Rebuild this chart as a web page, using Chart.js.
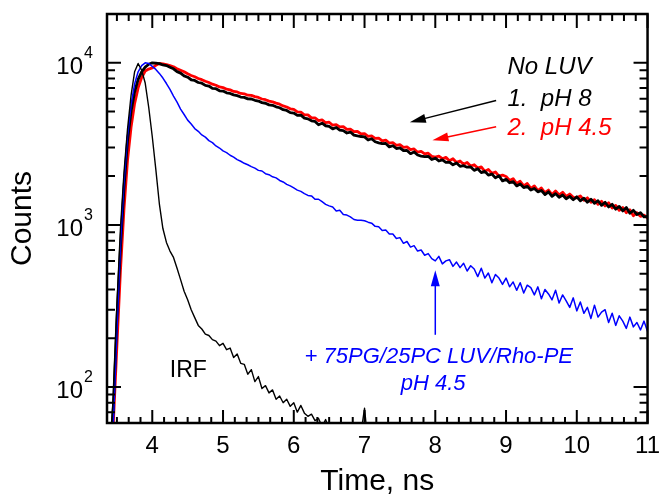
<!DOCTYPE html>
<html>
<head>
<meta charset="utf-8">
<script src="https://cdn.jsdelivr.net/npm/chart.js@4.4.0/dist/chart.umd.min.js"></script>
<style>
  html, body { margin: 0; padding: 0; background: #fff; }
  #wrap { width: 669px; height: 497px; }
</style>
</head>
<body>
<div id="wrap"><canvas id="chart"></canvas></div>
<script>
// time channels, ns
const time = [
  3.35, 3.4, 3.45, 3.5, 3.55, 3.6, 3.65, 3.7, 3.75, 3.8, 3.85, 3.9, 3.95,
  4, 4.05, 4.1, 4.15, 4.2, 4.25, 4.3, 4.35, 4.4, 4.45, 4.5, 4.55, 4.6, 4.65, 4.7, 4.75, 4.8, 4.85, 4.9, 4.95,
  5, 5.05, 5.1, 5.15, 5.2, 5.25, 5.3, 5.35, 5.4, 5.45, 5.5, 5.55, 5.6, 5.65, 5.7, 5.75, 5.8, 5.85, 5.9, 5.95,
  6, 6.05, 6.1, 6.15, 6.2, 6.25, 6.3, 6.35, 6.4, 6.45, 6.5, 6.55, 6.6, 6.65, 6.7, 6.75, 6.8, 6.85, 6.9, 6.95,
  7, 7.05, 7.1, 7.15, 7.2, 7.25, 7.3, 7.35, 7.4, 7.45, 7.5, 7.55, 7.6, 7.65, 7.7, 7.75, 7.8, 7.85, 7.9, 7.95,
  8, 8.05, 8.1, 8.15, 8.2, 8.25, 8.3, 8.35, 8.4, 8.45, 8.5, 8.55, 8.6, 8.65, 8.7, 8.75, 8.8, 8.85, 8.9, 8.95,
  9, 9.05, 9.1, 9.15, 9.2, 9.25, 9.3, 9.35, 9.4, 9.45, 9.5, 9.55, 9.6, 9.65, 9.7, 9.75, 9.8, 9.85, 9.9, 9.95,
  10, 10.05, 10.1, 10.15, 10.2, 10.25, 10.3, 10.35, 10.4, 10.45, 10.5, 10.55, 10.6, 10.65, 10.7, 10.75, 10.8, 10.85, 10.9, 10.95,
  11
];

// instrument response
const irf = [
  20, 40, 90, 320, 950, 2100, 3900, 6300, 8800, 9900, 9000, 7500, 5300,
  3500, 2200, 1350, 950, 780, 690, 630, 540, 460, 390, 345, 300, 268, 240, 228, 212, 208, 196, 192, 180,
  186, 170, 174, 152, 160, 140, 138, 120, 128, 108, 116, 98, 102, 92, 96, 84, 88, 80, 84, 76,
  80, 70, 77, 69, 66, 68, 62, 64, 57, 63, 55, 59, 52, 58, 50, 54, 48, 56, 46, 52,
  74, 44, 56, 42, 60, 41, 58, 40, 50, 38, 45, 36, 44, 35, 40, 34, 38, 33, 36, 32,
  31, 30, 30, 29, 29, 28, 28, 27, 27, 26, 26, 25, 25, 24, 24, 23, 23, 22, 22, 21,
  21, 21, 21, 21, 21, 21, 21, 21, 21, 21, 21, 21, 21, 21, 21, 21, 21, 21, 21, 21,
  20, 20, 20, 20, 20, 20, 20, 20, 20, 20, 20, 20, 20, 20, 20, 20, 20, 20, 20, 20,
  20
];

// 1. no LUV, pH 8
const noLuvPh8 = [
  20, 35, 75, 260, 720, 1700, 3300, 5000, 6600, 7900, 8800, 9400, 9800,
  10000, 9950, 9880, 9700, 9620, 9400, 9180, 8820, 8640, 8300, 8150, 7860, 7780, 7560, 7480, 7260, 7190, 6950, 6920, 6720,
  6690, 6530, 6470, 6340, 6270, 6150, 6120, 5990, 5980, 5870, 5810, 5680, 5630, 5500, 5470, 5350, 5280, 5140, 5080, 4930,
  4900, 4740, 4760, 4560, 4510, 4390, 4350, 4150, 4240, 4090, 4060, 3910, 3990, 3840, 3820, 3690, 3740, 3580, 3540, 3510,
  3490, 3340, 3400, 3260, 3210, 3170, 3180, 3030, 3080, 2960, 2990, 2870, 2880, 2750, 2820, 2700, 2660, 2640, 2650, 2530,
  2580, 2480, 2520, 2430, 2440, 2350, 2410, 2300, 2320, 2270, 2280, 2170, 2220, 2100, 2140, 2030, 2060, 1950, 2010, 1870,
  1910, 1820, 1850, 1740, 1790, 1700, 1730, 1640, 1680, 1600, 1630, 1540, 1600, 1500, 1560, 1480, 1530, 1450, 1500, 1430,
  1490, 1410, 1460, 1380, 1440, 1360, 1410, 1320, 1380, 1290, 1340, 1250, 1300, 1220, 1280, 1180, 1230, 1160, 1190, 1120,
  1130
];

// 2. no LUV, pH 4.5
const noLuvPh45 = [
  15, 30, 60, 180, 520, 1250, 2500, 4000, 5600, 7000, 8100, 8900, 9150,
  9300, 9650, 9900, 9850, 9750, 9600, 9450, 9200, 9000, 8800, 8550, 8350, 8200, 8000, 7870, 7700, 7560, 7380, 7270, 7100,
  7040, 6870, 6810, 6660, 6610, 6470, 6440, 6310, 6290, 6180, 6110, 5980, 5920, 5800, 5740, 5640, 5560, 5420, 5340, 5200,
  5160, 4980, 4960, 4770, 4770, 4570, 4580, 4400, 4450, 4270, 4300, 4120, 4150, 4020, 4040, 3880, 3900, 3760, 3770, 3640,
  3660, 3520, 3540, 3420, 3430, 3300, 3330, 3200, 3220, 3100, 3130, 3010, 3030, 2910, 2940, 2810, 2840, 2740, 2770, 2650,
  2620, 2660, 2560, 2610, 2490, 2560, 2430, 2480, 2370, 2430, 2310, 2350, 2240, 2280, 2140, 2200, 2080, 2120, 2000, 2030,
  1990, 1880, 1930, 1800, 1860, 1740, 1800, 1680, 1740, 1630, 1690, 1580, 1640, 1540, 1620, 1530, 1590, 1500, 1550, 1480,
  1470, 1510, 1420, 1470, 1380, 1430, 1340, 1400, 1310, 1370, 1270, 1320, 1230, 1280, 1190, 1240, 1140, 1190, 1130, 1150,
  1100
];

// + 75PG/25PC LUV/Rho-PE, pH 4.5
const luvPh45 = [
  20, 30, 60, 220, 750, 1800, 3500, 5500, 7400, 8800, 9600, 10000, 9900,
  9500, 9100, 8600, 8050, 7450, 6850, 6230, 5720, 5180, 4800, 4430, 4190, 3930, 3780, 3590, 3480, 3310, 3220, 3070, 2980,
  2860, 2790, 2690, 2620, 2530, 2470, 2400, 2350, 2290, 2240, 2170, 2150, 2070, 2040, 1980, 1950, 1880, 1840, 1780, 1740,
  1690, 1640, 1610, 1560, 1520, 1510, 1440, 1440, 1390, 1340, 1310, 1290, 1220, 1230, 1160, 1150, 1120, 1080, 1070, 1070,
  1060, 1040, 1025, 980, 975, 925, 930, 880, 880, 825, 835, 770, 790, 730, 745, 690, 700, 650, 665, 620,
  600, 640, 575, 600, 610, 555, 590, 545, 580, 520, 560, 535, 480, 540, 470, 505, 440, 495, 470, 430,
  470, 415, 445, 395, 440, 380, 425, 410, 370, 415, 350, 400, 375, 345, 395, 330, 370, 340, 310, 355,
  295, 335, 285, 310, 265, 320, 270, 290, 300, 250, 285, 240, 275, 255, 230, 270, 235, 250, 225, 255,
  220
];

const xTicks = [4, 5, 6, 7, 8, 9, 10, 11];
const yDecades = [100, 1000, 10000];

const FONT = '"Liberation Sans", Arial, Helvetica, sans-serif';

// text notes and arrows, placed in data coordinates
const notes = [
  { text: 'No LUV', x: 9.02, y: 8470, color: '#000', size: 24, italic: true, align: 'left' },
  { text: '1.  pH 8', x: 9.02, y: 5450, color: '#000', size: 24, italic: true, align: 'left' },
  { text: '2.  pH 4.5', x: 9.02, y: 3600, color: '#ff0000', size: 24, italic: true, align: 'left' },
  { text: '+ 75PG/25PC LUV/Rho-PE', x: 8.05, y: 141, color: '#0000ff', size: 22, italic: true, align: 'center' },
  { text: 'pH 4.5', x: 7.97, y: 96, color: '#0000ff', size: 22, italic: true, align: 'center' },
  { text: 'IRF', x: 4.51, y: 116, color: '#000', size: 23, italic: false, align: 'center' }
];
const arrows = [
  { from: [8.86, 5850], to: [7.64, 4300], color: '#000' },
  { from: [8.86, 4030], to: [7.96, 3330], color: '#ff0000' },
  { from: [8.0, 210], to: [8.0, 525], color: '#0000ff' }
];

const pts = (ys) => time.map((t, i) => ({ x: t, y: ys[i] }));

const framePlugin = {
  id: 'framePlugin',
  afterDatasetsDraw(chart) {
    const { ctx, chartArea: a, scales: { x, y } } = chart;
    ctx.save();
    ctx.strokeStyle = '#000';
    ctx.lineWidth = 2;
    ctx.beginPath();
    // ticks on bottom and top
    for (let i = 3; i <= 11; i++) {
      for (let k = 0; k < 6; k++) {
        const v = i + k / 6;
        if (v < x.min || v > x.max + 1e-9) continue;
        const px = x.getPixelForValue(v);
        const major = k === 0;
        ctx.moveTo(px, a.bottom);
        ctx.lineTo(px, a.bottom - (major ? 13 : 6));
        ctx.moveTo(px, a.top);
        ctx.lineTo(px, a.top + (major ? 14 : 7));
      }
    }
    // ticks on left and right
    for (let d = 10; d <= 10000; d *= 10) {
      for (let m = 1; m < 10; m++) {
        const v = d * m;
        if (v < y.min || v > y.max) continue;
        const py = y.getPixelForValue(v);
        const len = m === 1 ? 14 : 8;
        ctx.moveTo(a.left, py);
        ctx.lineTo(a.left + len, py);
        ctx.moveTo(a.right, py);
        ctx.lineTo(a.right - len, py);
      }
    }
    ctx.stroke();
    ctx.lineWidth = 2.5;
    ctx.strokeRect(a.left, a.top, a.right - a.left, a.bottom - a.top);

    // y tick labels 10^n
    ctx.fillStyle = '#000';
    ctx.textBaseline = 'alphabetic';
    yDecades.forEach(v => {
      const py = y.getPixelForValue(v);
      const exp = String(Math.round(Math.log10(v)));
      ctx.font = '24px ' + FONT;
      ctx.textAlign = 'right';
      ctx.fillText('10', a.left - 24, py + 11);
      ctx.font = '16px ' + FONT;
      ctx.textAlign = 'left';
      ctx.fillText(exp, a.left - 23, py - 5);
    });

    // notes
    notes.forEach(n => {
      ctx.font = (n.italic ? 'italic ' : '') + n.size + 'px ' + FONT;
      ctx.fillStyle = n.color;
      ctx.textAlign = n.align;
      ctx.fillText(n.text, x.getPixelForValue(n.x), y.getPixelForValue(n.y));
    });

    // arrows
    arrows.forEach(ar => {
      const x1 = x.getPixelForValue(ar.from[0]), y1 = y.getPixelForValue(ar.from[1]);
      const x2 = x.getPixelForValue(ar.to[0]), y2 = y.getPixelForValue(ar.to[1]);
      const ang = Math.atan2(y2 - y1, x2 - x1);
      const hl = 16, hw = 4.5;
      ctx.strokeStyle = ar.color;
      ctx.fillStyle = ar.color;
      ctx.lineWidth = 1.5;
      ctx.beginPath();
      ctx.moveTo(x1, y1);
      ctx.lineTo(x2 - Math.cos(ang) * hl * 0.8, y2 - Math.sin(ang) * hl * 0.8);
      ctx.stroke();
      ctx.beginPath();
      ctx.moveTo(x2, y2);
      ctx.lineTo(x2 - Math.cos(ang) * hl - Math.sin(ang) * hw, y2 - Math.sin(ang) * hl + Math.cos(ang) * hw);
      ctx.lineTo(x2 - Math.cos(ang) * hl + Math.sin(ang) * hw, y2 - Math.sin(ang) * hl - Math.cos(ang) * hw);
      ctx.closePath();
      ctx.fill();
    });
    ctx.restore();
  }
};

new Chart(document.getElementById('chart'), {
  type: 'line',
  data: {
    datasets: [
      { label: 'IRF', data: pts(irf), borderColor: '#000', borderWidth: 1.4, order: 1 },
      { label: '+ 75PG/25PC LUV/Rho-PE pH 4.5', data: pts(luvPh45), borderColor: '#0000ff', borderWidth: 1.5, order: 2 },
      { label: '1. pH 8', data: pts(noLuvPh8), borderColor: '#000', borderWidth: 2.8, order: 3 },
      { label: '2. pH 4.5', data: pts(noLuvPh45), borderColor: '#ff0000', borderWidth: 2.8, order: 4 }
    ]
  },
  options: {
    responsive: true,
    maintainAspectRatio: false,
    animation: false,
    events: [],
    layout: { padding: { left: 0, top: 14, right: 15, bottom: 0 } },
    elements: {
      point: { radius: 0 },
      line: { tension: 0, fill: false, borderJoinStyle: 'round' }
    },
    datasets: { line: { clip: 0 } },
    plugins: { legend: { display: false }, tooltip: { enabled: false } },
    scales: {
      x: {
        type: 'linear',
        min: 3.36,
        max: 11,
        afterBuildTicks: s => { s.ticks = xTicks.map(v => ({ value: v })); },
        afterFit: s => { s.height = 74; },
        grid: { display: false, drawTicks: false },
        border: { display: false },
        ticks: { color: '#000', padding: 9, font: { family: FONT, size: 24 } },
        title: {
          display: true, text: 'Time, ns', color: '#000',
          padding: { top: 0, bottom: 0 },
          font: { family: FONT, size: 30, lineHeight: 1 }
        }
      },
      y: {
        type: 'logarithmic',
        min: 60,
        max: 20000,
        afterFit: s => { s.width = 107; },
        grid: { display: false, drawTicks: false },
        border: { display: false },
        ticks: { display: false },
        title: {
          display: true, text: 'Counts', color: '#000',
          padding: { top: 8, bottom: 0 },
          font: { family: FONT, size: 30, lineHeight: 1 }
        }
      }
    }
  },
  plugins: [framePlugin]
});
</script>
</body>
</html>
